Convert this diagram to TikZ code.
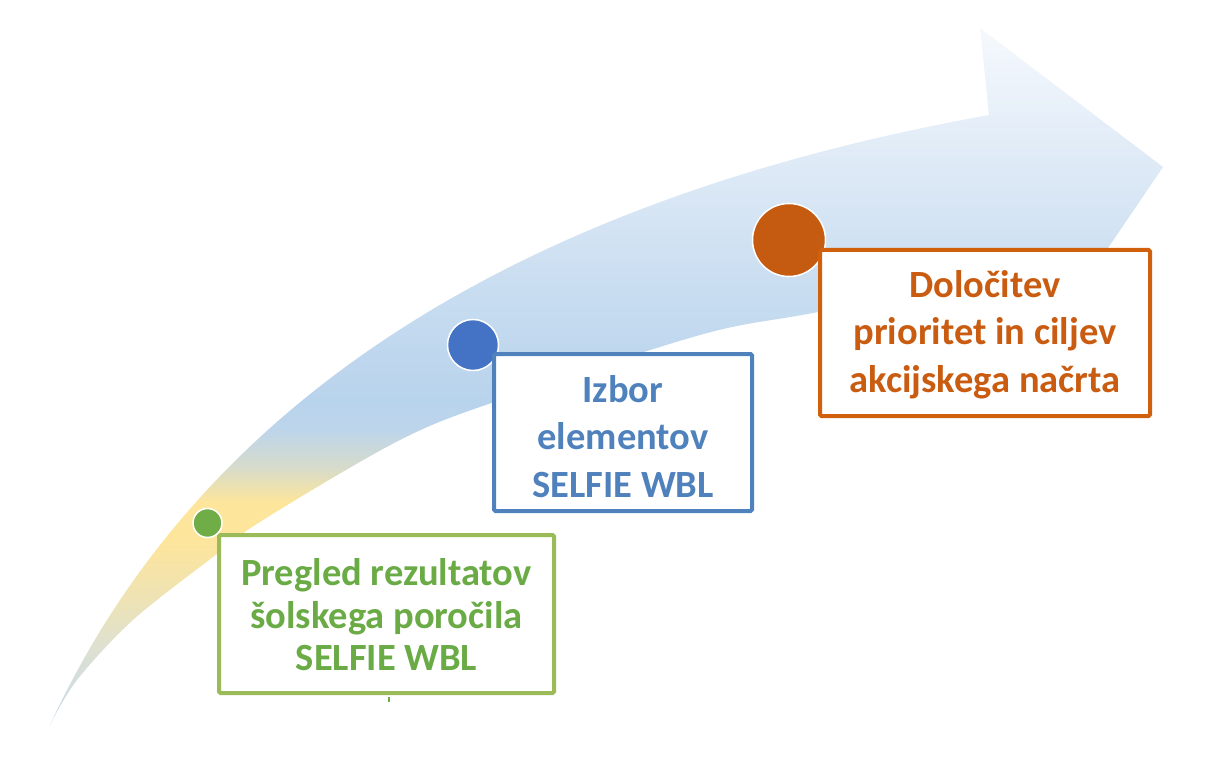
\documentclass[tikz,border=0pt]{standalone}
\usepackage{fontspec}
\setmainfont{Carlito}
\definecolor{tailc}{HTML}{C6DAEB}
\definecolor{cA}{HTML}{DDE0D2}
\definecolor{cB}{HTML}{EEE3B5}
\definecolor{yel}{HTML}{FDE59B}
\definecolor{cC}{HTML}{D6DBCB}
\definecolor{cD}{HTML}{BDD5EB}
\definecolor{blu}{HTML}{B8D3EC}
\definecolor{cE}{HTML}{C7DCF0}
\definecolor{cF}{HTML}{DDE9F6}
\definecolor{topc}{HTML}{F6F9FD}
\definecolor{grnline}{HTML}{9BBB59}
\definecolor{grntext}{HTML}{6AAB46}
\definecolor{grndot}{HTML}{70AD47}
\definecolor{bluline}{HTML}{4F81BD}
\definecolor{blutext}{HTML}{4F81BD}
\definecolor{bludot}{HTML}{4472C4}
\definecolor{orgline}{HTML}{D0600C}
\definecolor{orgtext}{HTML}{C95C10}
\definecolor{orgdot}{HTML}{C55A11}
\pgfdeclareverticalshading{arrowshade}{100bp}{color(0bp)=(tailc); color(25bp)=(tailc); color(30.4bp)=(cA); color(34bp)=(cB); color(38.3bp)=(yel); color(41bp)=(yel); color(43.5bp)=(cC); color(46.2bp)=(cD); color(48.3bp)=(blu); color(55.5bp)=(cE); color(64.8bp)=(cF); color(75bp)=(topc); color(100bp)=(topc)}
\tikzset{
  stepbox/.style={draw, line width=4pt, fill=white, rounded corners=1.5pt, inner sep=0pt},
  steptext/.style={inner sep=0pt, align=center, font=\fontsize{38.5}{47.5}\selectfont\bfseries},
  dot/.style={circle, draw=white, line width=1.5pt, inner sep=0pt}
}
\begin{document}
\begin{tikzpicture}[x=1pt,y=-1pt]
\useasboundingbox (0,0) rectangle (1228,759);
% arrow
\path[shading=arrowshade]
  (50,725) .. controls (197,406.5) and (509,201.4) .. (989,115)
  -- (980,28) -- (1163,167) -- (1034,357) -- (1000,278)
  -- plot[smooth, tension=0.55] coordinates {(1000,278) (813,313) (700,335) (500,400) (400,440) (263,520) (213,557) (133,620) (77,680) (50,725)}
  -- cycle;
% dots
\node[dot, fill=grndot, minimum size=29pt] (d1) at (207.5,523) {};
\node[dot, fill=bludot, minimum size=51pt] (d2) at (473,345) {};
\node[dot, fill=orgdot, minimum size=73pt] (d3) at (789,240) {};
% boxes
\node[stepbox, draw=grnline, minimum width=335pt, minimum height=158pt] (b1) at (386.5,614) {};
\node[stepbox, draw=bluline, minimum width=258pt, minimum height=157pt] (b2) at (623,432.5) {};
\node[stepbox, draw=orgline, minimum width=330pt, minimum height=166pt] (b3) at (985,333) {};
% texts
\node[steptext, text=grntext, font=\fontsize{38.5}{42.5}\selectfont\bfseries] (l1) at ([yshift=-1pt]b1.center) {Pregled rezultatov\\šolskega poročila\\SELFIE WBL};
\node[steptext, text=blutext] (l2) at ([yshift=-4pt]b2.center) {Izbor\\elementov\\SELFIE WBL};
\node[steptext, text=orgtext] (l3) at ([yshift=-1.5pt]b3.center) {Določitev\\prioritet in ciljev\\akcijskega načrta};
% small tick below green box
\coordinate (t1) at (389,697);
\coordinate (t2) at (389,702);
\draw[grndot, line width=2pt] (t1) -- (t2);
\end{tikzpicture}
\end{document}
